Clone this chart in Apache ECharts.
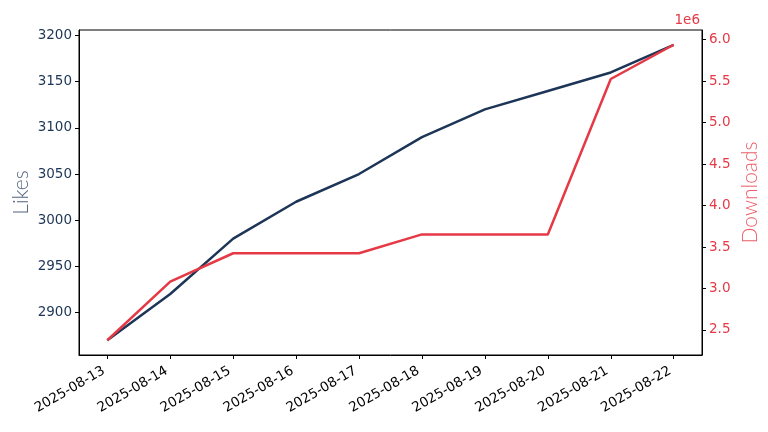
<!DOCTYPE html>
<html>
<head>
<meta charset="utf-8">
<script src="https://cdn.jsdelivr.net/npm/echarts@6/dist/echarts.min.js"></script>
<style>html,body{margin:0;padding:0;background:#fff}#c{width:768px;height:432px}</style>
</head>
<body>
<div id="c"></div>
<script>
const dates = ['2025-08-13','2025-08-14','2025-08-15','2025-08-16','2025-08-17','2025-08-18','2025-08-19','2025-08-20','2025-08-21','2025-08-22'];
const likes = [2870, 2920, 2980, 3020, 3050, 3090, 3120, 3140, 3160, 3190];
const downloads = [2376000, 3083000, 3425000, 3425000, 3425000, 3652000, 3652000, 3652000, 5526000, 5939000];
const likesTicks = [2900, 2950, 3000, 3050, 3100, 3150, 3200];
const downloadTicks = [2500000, 3000000, 3500000, 4000000, 4500000, 5000000, 5500000, 6000000];

const NAVY = '#1d3557', RED = '#e63946';
const FONT = 'DejaVu Sans';

function pad(arr, f) { const mn = Math.min(...arr), mx = Math.max(...arr); const d = (mx - mn) * f; return [mn - d, mx + d]; }
const lr = pad(likes, 0.05), dr = pad(downloads, 0.05);
const xIdx = dates.map((d, i) => i);

const chart = echarts.init(document.getElementById('c'), null, {renderer: 'canvas'});
chart.setOption({
  animation: false,
  grid: {left: 79, right: 66, top: 30, bottom: 77, outerBoundsMode: 'none', containLabel: false, show: true, borderColor: '#000', borderWidth: 1, backgroundColor: 'transparent'},
  xAxis: {
    type: 'value', min: -0.45, max: dates.length - 1 + 0.45,
    axisLine: {show: true, onZero: false, lineStyle: {color: '#000', width: 1}},
    splitLine: {show: false},
    axisTick: {show: true, customValues: xIdx, length: 4, lineStyle: {color: '#000'}},
    axisLabel: {customValues: xIdx, rotate: 30, margin: 13, padding: [0, 4, 0, 0], fontFamily: FONT, fontSize: 13.5, color: '#000',
      formatter: v => dates[Math.round(v)] || ''}
  },
  yAxis: [
    {
      type: 'value', min: lr[0], max: lr[1], position: 'left',
      name: 'Likes', nameLocation: 'middle', nameGap: 47, nameMoveOverlap: false,
      nameTextStyle: {fontFamily: 'Lato', fontWeight: 300, fontSize: 21, color: 'rgba(29,53,87,0.8)'},
      axisLine: {show: true, onZero: false, lineStyle: {color: '#000', width: 1}}, splitLine: {show: false},
      axisTick: {show: true, customValues: likesTicks, length: 4, lineStyle: {color: '#000'}},
      axisLabel: {customValues: likesTicks, margin: 7, fontFamily: FONT, fontSize: 13.5, color: NAVY,
        formatter: v => String(v)}
    },
    {
      type: 'value', min: dr[0], max: dr[1], position: 'right',
      name: 'Downloads', nameLocation: 'middle', nameGap: 38, nameRotate: 90, nameMoveOverlap: false,
      nameTextStyle: {fontFamily: 'Lato', fontWeight: 300, fontSize: 21, color: 'rgba(230,57,70,0.82)'},
      axisLine: {show: true, onZero: false, lineStyle: {color: '#000', width: 1}}, splitLine: {show: false},
      axisTick: {show: true, customValues: downloadTicks, length: 4, lineStyle: {color: '#000'}},
      axisLabel: {customValues: downloadTicks, margin: 7, fontFamily: FONT, fontSize: 13.5, color: RED,
        formatter: v => (v / 1e6).toFixed(1)}
    }
  ],
  graphic: [{type: 'text', right: 68, top: 13, style: {text: '1e6', fontFamily: FONT, fontSize: 13.5, fill: RED}}],
  series: [
    {type: 'line', yAxisIndex: 0, data: likes.map((v, i) => [i, v]), showSymbol: false, lineStyle: {color: NAVY, width: 2.5}, itemStyle: {color: NAVY}, z: 2},
    {type: 'line', yAxisIndex: 1, data: downloads.map((v, i) => [i, v]), showSymbol: false, lineStyle: {color: RED, width: 2.5}, itemStyle: {color: RED}, z: 3}
  ]
});
</script>
</body>
</html>
